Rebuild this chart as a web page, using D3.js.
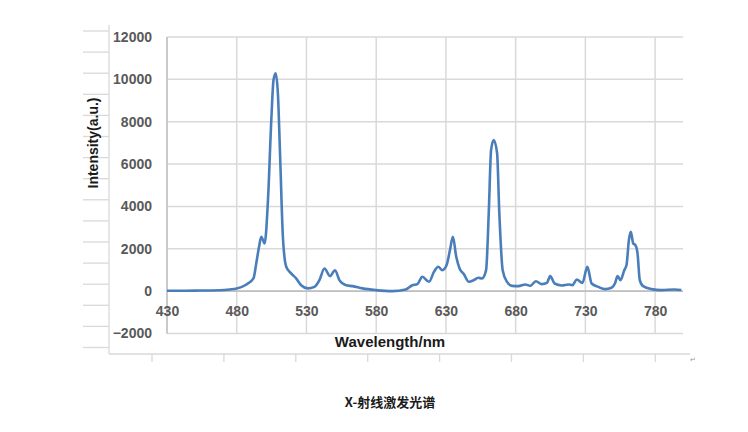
<!DOCTYPE html>
<html>
<head>
<meta charset="utf-8">
<script src="https://cdn.jsdelivr.net/npm/d3@7"></script>
<style>
  body { margin: 0; background: #fff; }
  svg { display: block; }
</style>
</head>
<body>
<svg id="chart" width="748" height="432"></svg>
<script>
// spectrum
const wavelength = [430, 440, 450, 460, 468, 475, 480, 487, 492, 494, 496, 497.6, 500, 502.4, 504.8, 506.4, 507.9, 509.5, 511.2, 513.1,
    515.5, 519, 522.6, 526.2, 531, 535.7, 539.3, 542.9, 546.9, 550.5, 553.6, 558.4, 563.1, 570.2, 579.8, 591.6, 601.2, 605.9, 609.5, 613.1,
    617.9, 621.4, 624.5, 627.4, 630.5, 632.9, 635, 637.4, 639.8, 642.9, 646.4, 650, 653.1, 655.9, 658.8, 660.7, 662.4, 664.3, 666.7, 668.3,
    670.7, 673.8, 677.4, 682.1, 686.9, 690.5, 694.5, 698.8, 702.4, 704.8, 707.9, 713.1, 717.9, 720.7, 723.8, 727.9, 731.4, 734.5, 739.3, 744,
    748.8, 751.2, 753.1, 755.2, 757.9, 759.5, 761.2, 762.6, 764.3, 765.9, 767.4, 769, 771.4, 777.4, 784.5, 794, 798.8];
const intensity = [20, 20, 25, 30, 40, 80, 130, 315, 600, 1310, 2100, 2570, 2250, 4300, 8090, 9980, 10290, 9350, 6190, 2570,
    1150, 840, 600, 280, 130, 200, 520, 1070, 710, 990, 520, 280, 236, 130, 50, 0, 80, 280, 330, 680,
    440, 910, 1150, 990, 1230, 1940, 2570, 1620, 1070, 800, 440, 520, 630, 600, 990, 3670, 6670, 7140, 6510, 3670,
    990, 440, 250, 236, 315, 250, 470, 330, 390, 710, 360, 270, 315, 280, 550, 390, 1150, 360, 200, 95,
    160, 360, 710, 520, 990, 1230, 2410, 2800, 2250, 2170, 1780, 520, 236, 95, 50, 80, 50];

const xTicks = [430, 480, 530, 580, 630, 680, 730, 780];
const yTicks = [-2000, 0, 2000, 4000, 6000, 8000, 10000, 12000];

const svg = d3.select('#chart');
const grid = '#d9d9d9';
const font = 'Liberation Sans, Arial, sans-serif';

const x = d3.scaleLinear().domain([430, 800]).range([167, 683]);
const y = d3.scaleLinear().domain([-2000, 12000]).range([333.5, 37]);

// faint outer frame behind the plot
const frame = svg.append('g').attr('stroke', grid).attr('stroke-width', 1.3);
frame.append('line').attr('x1', 109).attr('x2', 109).attr('y1', 25).attr('y2', 354);
frame.append('line').attr('x1', 109).attr('x2', 690).attr('y1', 354).attr('y2', 354);
for (let k = 0; k < 16; k++) {
    const yy = 31 + k * 21.1;
    frame.append('line').attr('x1', 83).attr('x2', 109).attr('y1', yy).attr('y2', yy);
}
for (let k = 0; k < 8; k++) {
    const xx = 152 + k * 71.9;
    frame.append('line').attr('x1', xx).attr('x2', xx).attr('y1', 354).attr('y2', 362);
}
svg.append('text').text('↵').attr('x', 690).attr('y', 362)
    .style('font-size', '7px').attr('fill', '#999').style('font-family', font);

// gridlines
svg.append('g').selectAll('line').data(yTicks).join('line')
    .attr('x1', x.range()[0]).attr('x2', x.range()[1])
    .attr('y1', d => y(d)).attr('y2', d => y(d))
    .attr('stroke', grid).attr('stroke-width', 1.5);
svg.append('g').selectAll('line').data(xTicks).join('line')
    .attr('x1', d => x(d)).attr('x2', d => x(d))
    .attr('y1', y.range()[0]).attr('y2', y.range()[1])
    .attr('stroke', grid).attr('stroke-width', 1.5);

// axis lines
svg.append('line').attr('x1', x(430)).attr('x2', x(430)).attr('y1', y(-2000)).attr('y2', y(12000))
    .attr('stroke', '#c4c4c4').attr('stroke-width', 1.6);
svg.append('line').attr('x1', x(430)).attr('x2', x(800)).attr('y1', y(0)).attr('y2', y(0))
    .attr('stroke', '#bfbfbf').attr('stroke-width', 1.6);

// tick labels
const xAxis = svg.append('g').attr('transform', `translate(0,${y(0)})`)
    .call(d3.axisBottom(x).tickValues(xTicks).tickSize(0).tickPadding(15));
const yAxis = svg.append('g').attr('transform', `translate(${x(430)},0)`)
    .call(d3.axisLeft(y).tickValues(yTicks).tickSize(0).tickPadding(15).tickFormat(d3.format('d')));
[xAxis, yAxis].forEach(a => {
    a.select('.domain').remove();
    a.selectAll('text').style('font-family', font).style('font-size', '14px')
        .style('font-weight', 'bold').attr('fill', '#595959');
});

// spectrum
const pts = wavelength.map((w, i) => [w, intensity[i]]);
svg.append('path').datum(pts)
    .attr('fill', 'none').attr('stroke', '#4a7ebb').attr('stroke-width', 2.6)
    .attr('stroke-linejoin', 'round')
    .attr('d', d3.line().x(d => x(d[0])).y(d => y(d[1])).curve(d3.curveMonotoneX));

// titles
svg.append('text').text('Wavelength/nm').attr('x', 390).attr('y', 347)
    .attr('text-anchor', 'middle').style('font-family', font).style('font-size', '15px')
    .style('font-weight', 'bold').attr('fill', '#1a1a1a');
svg.append('text').text('Intensity(a.u.)')
    .attr('transform', 'translate(98,143) rotate(-90)')
    .attr('text-anchor', 'middle').style('font-family', font).style('font-size', '14px')
    .style('font-weight', 'bold').attr('fill', '#1a1a1a');
svg.append('text').text('X-射线激发光谱').attr('x', 390).attr('y', 407)
    .attr('text-anchor', 'middle').style('font-family', 'Noto Sans CJK SC, sans-serif').style('font-size', '13px')
    .style('font-weight', 'bold').attr('fill', '#1a1a1a');
</script>
</body>
</html>
